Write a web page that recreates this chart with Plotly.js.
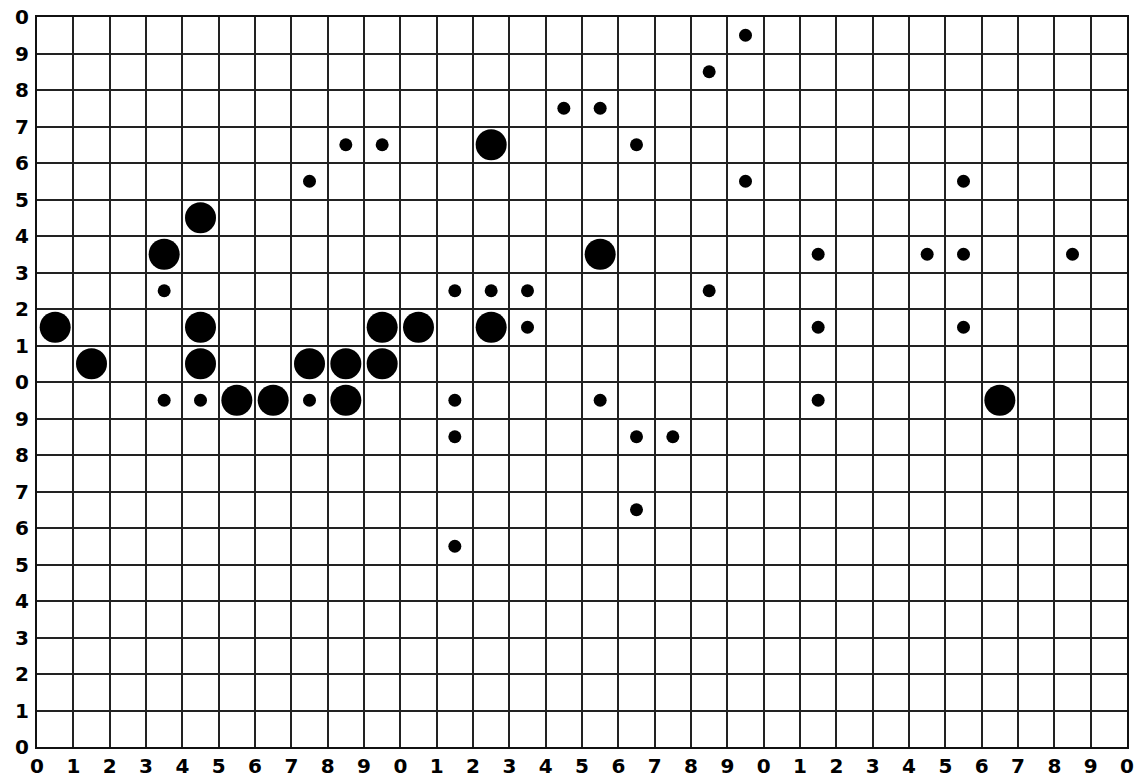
<!DOCTYPE html>
<html>
<head>
<meta charset="utf-8">
<script src="https://cdn.plot.ly/plotly-3.0.1.min.js"></script>
<style>html,body{margin:0;padding:0;background:#fff}#chart{width:1140px;height:778px}</style>
</head>
<body>
<div id="chart"></div>
<script>
const bigX = [0.5, 1.5, 3.5, 4.5, 4.5, 4.5, 5.5, 6.5, 7.5, 8.5, 8.5, 9.5, 9.5, 10.5, 12.5, 12.5, 15.5, 26.5];
const bigY = [11.5, 10.5, 13.5, 14.5, 11.5, 10.5, 9.5, 9.5, 10.5, 10.5, 9.5, 11.5, 10.5, 11.5, 16.5, 11.5, 13.5, 9.5];
const smallX = [3.5, 3.5, 4.5, 7.5, 7.5, 8.5, 9.5, 11.5, 11.5, 11.5, 11.5, 12.5, 13.5, 13.5, 14.5, 15.5, 15.5, 16.5, 16.5, 16.5, 17.5, 18.5, 18.5, 19.5, 19.5, 21.5, 21.5, 21.5, 24.5, 25.5, 25.5, 25.5, 28.5];
const smallY = [12.5, 9.5, 9.5, 15.5, 9.5, 16.5, 16.5, 12.5, 9.5, 8.5, 5.5, 12.5, 12.5, 11.5, 17.5, 17.5, 9.5, 16.5, 8.5, 6.5, 8.5, 18.5, 12.5, 19.5, 15.5, 13.5, 11.5, 9.5, 13.5, 13.5, 15.5, 11.5, 13.5];
const xTickVals = Array.from({length: 31}, (_, i) => i);
const xTickText = xTickVals.map(v => String(v % 10));
const yTickVals = Array.from({length: 21}, (_, i) => i);
const yTickText = yTickVals.map(v => String(v % 10));

const traces = [
  {x: bigX, y: bigY, type: 'scatter', mode: 'markers', marker: {color: '#000', size: 31}, hoverinfo: 'skip'},
  {x: smallX, y: smallY, type: 'scatter', mode: 'markers', marker: {color: '#000', size: 13}, hoverinfo: 'skip'}
];
const tickFont = {family: 'DejaVu Sans, Arial, sans-serif', size: 20, color: '#000', weight: 'bold'};
const layout = {
  width: 1140, height: 778,
  margin: {l: 37, r: 13, t: 17, b: 31},
  paper_bgcolor: '#fff', plot_bgcolor: '#fff',
  showlegend: false,
  xaxis: {range: [0, 30], tickvals: xTickVals, ticktext: xTickText, showgrid: true, gridcolor: '#222', gridwidth: 2,
    zeroline: false, showline: true, linecolor: '#111', linewidth: 2, mirror: true, ticks: '', tickfont: tickFont, ticklabelstandoff: 0, fixedrange: true},
  yaxis: {range: [0, 20], tickvals: yTickVals, ticktext: yTickText, showgrid: true, gridcolor: '#222', gridwidth: 2,
    zeroline: false, showline: true, linecolor: '#111', linewidth: 2, mirror: true, ticks: '', tickfont: tickFont, ticklabelstandoff: 2, fixedrange: true}
};
Plotly.newPlot('chart', traces, layout, {displayModeBar: false, staticPlot: true});
</script>
</body>
</html>
